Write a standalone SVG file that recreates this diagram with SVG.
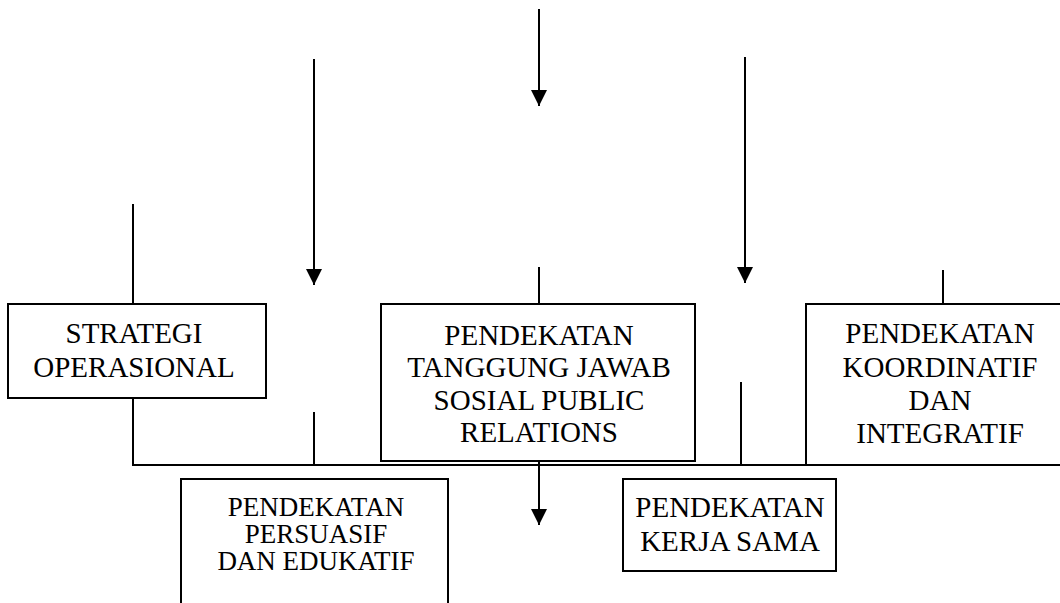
<svg xmlns="http://www.w3.org/2000/svg" width="1060" height="603" viewBox="0 0 1060 603">
<defs>
<style>
.box{fill:#fff;stroke:#000;stroke-width:2}
.ln{stroke:#000;stroke-width:2;fill:none}
.t{font-family:"Liberation Serif","Times New Roman",serif;font-size:29px;fill:#000;text-anchor:middle}
.s{font-size:27px}
</style>
<marker id="ah" viewBox="0 0 16 16" markerWidth="16" markerHeight="16" refX="16" refY="8" orient="auto" markerUnits="userSpaceOnUse">
<path d="M0,0 L16,8 L0,16 Z" fill="#000"/>
</marker>
</defs>
<rect width="1060" height="603" fill="#fff"/>
<g id="connectors">
<line class="ln" x1="539" y1="9" x2="539" y2="106" marker-end="url(#ah)"/>
<line class="ln" x1="314" y1="59" x2="314" y2="285" marker-end="url(#ah)"/>
<line class="ln" x1="745" y1="57" x2="745" y2="283" marker-end="url(#ah)"/>
<line class="ln" x1="133" y1="204" x2="133" y2="304"/>
<line class="ln" x1="539" y1="267" x2="539" y2="304"/>
<line class="ln" x1="943" y1="270" x2="943" y2="304"/>
<line class="ln" x1="133" y1="398" x2="133" y2="465"/>
<line class="ln" x1="314" y1="412" x2="314" y2="465"/>
<line class="ln" x1="741" y1="382" x2="741" y2="465"/>
<line class="ln" x1="132" y1="465" x2="944" y2="465"/>
<line class="ln" x1="539" y1="461" x2="539" y2="525" marker-end="url(#ah)"/>
</g>
<g id="strategi">
<rect class="box" x="8" y="304" width="258" height="94"/>
<text class="t" x="134" y="343">STRATEGI</text>
<text class="t" x="134" y="377">OPERASIONAL</text>
</g>
<g id="tanggung-jawab">
<rect class="box" x="381" y="304" width="314" height="157"/>
<text class="t" x="539" y="345">PENDEKATAN</text>
<text class="t" x="539" y="377">TANGGUNG JAWAB</text>
<text class="t" x="539" y="410">SOSIAL PUBLIC</text>
<text class="t" x="539" y="442">RELATIONS</text>
</g>
<g id="koordinatif">
<rect class="box" x="806" y="304" width="274" height="161"/>
<text class="t" x="940" y="343">PENDEKATAN</text>
<text class="t" x="940" y="377">KOORDINATIF</text>
<text class="t" x="940" y="410">DAN</text>
<text class="t" x="940" y="443">INTEGRATIF</text>
</g>
<g id="persuasif">
<rect class="box" x="181" y="479" width="267" height="140"/>
<text class="t s" x="316" y="516">PENDEKATAN</text>
<text class="t s" x="316" y="543">PERSUASIF</text>
<text class="t s" x="316" y="570">DAN EDUKATIF</text>
</g>
<g id="kerja-sama">
<rect class="box" x="623" y="479" width="213" height="92"/>
<text class="t" x="730" y="517">PENDEKATAN</text>
<text class="t" x="730" y="551">KERJA SAMA</text>
</g>
</svg>
